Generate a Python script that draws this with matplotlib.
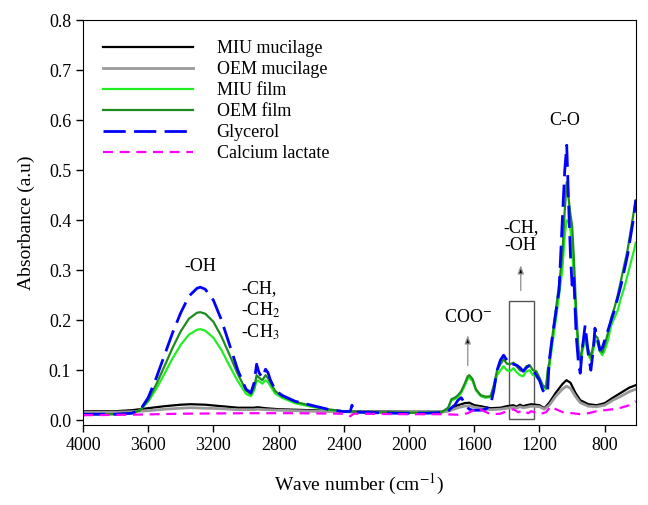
import matplotlib
matplotlib.use('Agg')
import matplotlib.pyplot as plt
from matplotlib.patches import Rectangle

plt.rcParams['font.family'] = ['Liberation Serif', 'DejaVu Serif']
plt.rcParams['mathtext.fontset'] = 'stix'

# wave numbers shared by the films and glycerol spectra
wn = [4000, 3900, 3800, 3700, 3650, 3600, 3550, 3500, 3450, 3400, 3350, 3300, 3280,
      3250, 3200, 3150, 3100, 3050, 3000, 2970, 2950, 2935, 2920, 2900, 2880, 2865,
      2850, 2820, 2780, 2700, 2600, 2500, 2400, 2360, 2350, 2340, 2300, 2200, 2100,
      2000, 1900, 1800, 1760, 1740, 1720, 1700, 1680, 1660, 1640, 1630, 1610, 1590,
      1560, 1530, 1500, 1480, 1460, 1440, 1420, 1400, 1380, 1360, 1340, 1320, 1300,
      1280, 1260, 1240, 1220, 1200, 1180, 1160, 1150, 1140, 1120, 1100, 1080, 1060,
      1045, 1033, 1020, 1010, 1000, 990, 975, 960, 950, 935, 920, 900, 885, 870, 860,
      845, 830, 815, 800, 780, 760, 740, 720, 700, 680, 660, 640, 620, 610]

glycerol = [0.012, 0.012, 0.012, 0.014, 0.020, 0.045, 0.085, 0.130, 0.175, 0.215, 0.248,
            0.264, 0.266, 0.262, 0.240, 0.200, 0.150, 0.100, 0.062, 0.055, 0.075, 0.112,
            0.095, 0.085, 0.102, 0.095, 0.080, 0.060, 0.050, 0.038, 0.030, 0.022, 0.017,
            0.018, 0.030, 0.016, 0.016, 0.015, 0.014, 0.014, 0.014, 0.015, 0.018, 0.025,
            0.030, 0.040, 0.045, 0.035, 0.025, 0.022, 0.020, 0.020, 0.020, 0.022, 0.030,
            0.060, 0.100, 0.120, 0.130, 0.120, 0.110, 0.112, 0.110, 0.105, 0.098, 0.105,
            0.110, 0.100, 0.090, 0.080, 0.060, 0.052, 0.060, 0.120, 0.170, 0.215, 0.260,
            0.400, 0.500, 0.550, 0.420, 0.330, 0.270, 0.290, 0.170, 0.110, 0.094, 0.150,
            0.190, 0.130, 0.100, 0.140, 0.184, 0.165, 0.140, 0.145, 0.160, 0.180, 0.200,
            0.220, 0.245, 0.270, 0.300, 0.330, 0.370, 0.410, 0.440]

oem_film = [0.012, 0.012, 0.012, 0.014, 0.020, 0.040, 0.072, 0.108, 0.145, 0.178, 0.203,
            0.215, 0.216, 0.213, 0.197, 0.167, 0.130, 0.092, 0.060, 0.052, 0.065, 0.090,
            0.085, 0.080, 0.090, 0.084, 0.075, 0.058, 0.048, 0.037, 0.029, 0.022, 0.018,
            0.017, 0.017, 0.017, 0.016, 0.016, 0.016, 0.015, 0.015, 0.016, 0.025, 0.042,
            0.045, 0.050, 0.058, 0.072, 0.088, 0.090, 0.082, 0.062, 0.050, 0.047, 0.048,
            0.070, 0.100, 0.112, 0.122, 0.113, 0.112, 0.115, 0.108, 0.100, 0.098, 0.108,
            0.110, 0.100, 0.098, 0.085, 0.070, 0.065, 0.100, 0.115, 0.170, 0.220, 0.270,
            0.330, 0.420, 0.476, 0.440, 0.410, 0.390, 0.330, 0.220, 0.140, 0.120, 0.150,
            0.170, 0.140, 0.126, 0.150, 0.170, 0.165, 0.145, 0.136, 0.150, 0.175, 0.205,
            0.225, 0.250, 0.280, 0.310, 0.340, 0.380, 0.420, 0.440]

miu_film = [0.012, 0.012, 0.012, 0.014, 0.020, 0.037, 0.063, 0.093, 0.124, 0.151, 0.171,
            0.181, 0.182, 0.179, 0.165, 0.140, 0.108, 0.078, 0.053, 0.048, 0.060, 0.080,
            0.078, 0.073, 0.080, 0.076, 0.068, 0.053, 0.045, 0.034, 0.027, 0.021, 0.017,
            0.016, 0.016, 0.016, 0.016, 0.015, 0.015, 0.015, 0.015, 0.016, 0.024, 0.040,
            0.042, 0.046, 0.055, 0.068, 0.083, 0.085, 0.078, 0.060, 0.048, 0.045, 0.046,
            0.065, 0.090, 0.100, 0.108, 0.100, 0.098, 0.104, 0.096, 0.090, 0.088, 0.098,
            0.100, 0.090, 0.088, 0.078, 0.066, 0.062, 0.090, 0.105, 0.155, 0.200, 0.250,
            0.300, 0.370, 0.400, 0.395, 0.380, 0.340, 0.290, 0.200, 0.130, 0.115, 0.140,
            0.160, 0.132, 0.120, 0.140, 0.160, 0.155, 0.138, 0.130, 0.140, 0.160, 0.190,
            0.205, 0.220, 0.245, 0.265, 0.290, 0.315, 0.340, 0.355]

# mucilage spectra
wn_muc = [4000, 3800, 3700, 3600, 3500, 3400, 3340, 3250, 3150, 3050, 2950, 2930, 2880,
          2800, 2600, 2400, 2000, 1800, 1760, 1700, 1660, 1630, 1600, 1560, 1500, 1440,
          1400, 1360, 1340, 1320, 1300, 1280, 1250, 1200, 1170, 1140, 1100, 1060, 1035,
          1010, 980, 950, 900, 850, 800, 750, 700, 650, 610]
miu_muc = [0.018, 0.018, 0.020, 0.024, 0.028, 0.031, 0.032, 0.031, 0.028, 0.025, 0.025,
           0.026, 0.024, 0.022, 0.020, 0.018, 0.017, 0.017, 0.020, 0.030, 0.034, 0.035,
           0.030, 0.028, 0.024, 0.025, 0.028, 0.030, 0.027, 0.031, 0.028, 0.030, 0.032,
           0.030, 0.024, 0.035, 0.055, 0.072, 0.080, 0.075, 0.055, 0.040, 0.032, 0.030,
           0.034, 0.045, 0.055, 0.065, 0.070]
oem_muc = [0.016, 0.016, 0.017, 0.019, 0.022, 0.024, 0.025, 0.024, 0.023, 0.021, 0.021,
           0.022, 0.021, 0.020, 0.018, 0.017, 0.016, 0.016, 0.018, 0.025, 0.028, 0.029,
           0.026, 0.024, 0.021, 0.022, 0.024, 0.026, 0.024, 0.027, 0.025, 0.026, 0.028,
           0.027, 0.022, 0.030, 0.048, 0.062, 0.068, 0.064, 0.048, 0.035, 0.028, 0.027,
           0.030, 0.040, 0.048, 0.057, 0.062]

# calcium lactate
wn_cl = [4000, 3700, 3400, 3000, 2700, 2400, 2360, 2340, 2000, 1800, 1700, 1640, 1580,
         1540, 1500, 1440, 1400, 1360, 1330, 1300, 1270, 1250, 1200, 1160, 1130, 1100,
         1050, 1000, 950, 900, 850, 800, 750, 700, 650, 610]
calcium = [0.010, 0.011, 0.013, 0.014, 0.014, 0.013, 0.008, 0.013, 0.012, 0.012, 0.011,
           0.014, 0.024, 0.018, 0.012, 0.013, 0.018, 0.022, 0.016, 0.020, 0.014, 0.018,
           0.012, 0.016, 0.028, 0.022, 0.015, 0.014, 0.012, 0.014, 0.018, 0.020, 0.022,
           0.025, 0.030, 0.038]

fig, ax = plt.subplots(figsize=(6.48, 5.05), dpi=100)
fig.subplots_adjust(left=0.128, right=0.981, top=0.960, bottom=0.158)

ax.plot(wn_muc, miu_muc, color='black', lw=1.6, label='MIU mucilage')
ax.plot(wn_muc, oem_muc, color='#999999', lw=2.0, label='OEM mucilage')
ax.plot(wn, miu_film, color='#22ee22', lw=1.6, label='MIU film')
ax.plot(wn, oem_film, color='#1e8b1e', lw=1.6, label='OEM film')
ax.plot(wn, glycerol, color='#0000ff', lw=2.0, dashes=(8, 3), label='Glycerol')
ax.plot(wn_cl, calcium, color='#ff00ff', lw=1.6, dashes=(4.5, 3), label='Calcium lactate')

ax.set_xlim(4000, 610)
ax.set_ylim(-0.01, 0.8)
ax.set_xticks([4000, 3600, 3200, 2800, 2400, 2000, 1600, 1200, 800])
ax.set_yticks([0.0, 0.1, 0.2, 0.3, 0.4, 0.5, 0.6, 0.7, 0.8])
ax.set_yticklabels(['0.0', '0.1', '0.2', '0.3', '0.4', '0.5', '0.6', '0.7', '0.8'])
ax.tick_params(direction='out', length=5, width=1, labelsize=13)
ax.set_xlabel('Wave number (cm$^{-1}$)', fontsize=14, labelpad=13)
ax.set_ylabel('Absorbance (a.u)', fontsize=14, labelpad=10)

ax.legend(loc='upper left', bbox_to_anchor=(0.0, 1.0), frameon=False, fontsize=13,
          handlelength=5, handletextpad=1.3, labelspacing=0.22, borderaxespad=0.7)

# band annotations
ax.text(3283, 0.308, '-OH', fontsize=13, ha='center', va='center')
ax.text(3030, 0.264, '-CH,', fontsize=13, ha='left', va='center')
ax.text(3030, 0.220, '-CH$_2$', fontsize=13, ha='left', va='center')
ax.text(3030, 0.176, '-CH$_3$', fontsize=13, ha='left', va='center')
ax.text(1640, 0.205, 'COO$^{-}$', fontsize=13, ha='center', va='center')
ax.text(1315, 0.386, '-CH,', fontsize=13, ha='center', va='center')
ax.text(1315, 0.350, '-OH', fontsize=13, ha='center', va='center')
ax.text(1045, 0.600, 'C-O', fontsize=13, ha='center', va='center')

arrow = dict(arrowstyle='-|>,head_length=0.5,head_width=0.18', edgecolor='#999999',
             facecolor='black', lw=1)
ax.annotate('', xy=(1640, 0.176), xytext=(1640, 0.104), arrowprops=arrow)
ax.annotate('', xy=(1315, 0.316), xytext=(1315, 0.254), arrowprops=arrow)
ax.add_patch(Rectangle((1389, 0.002), 1235 - 1389, 0.236, fill=False,
                       edgecolor='#555555', lw=1))

plt.savefig('out.png', dpi=100)
